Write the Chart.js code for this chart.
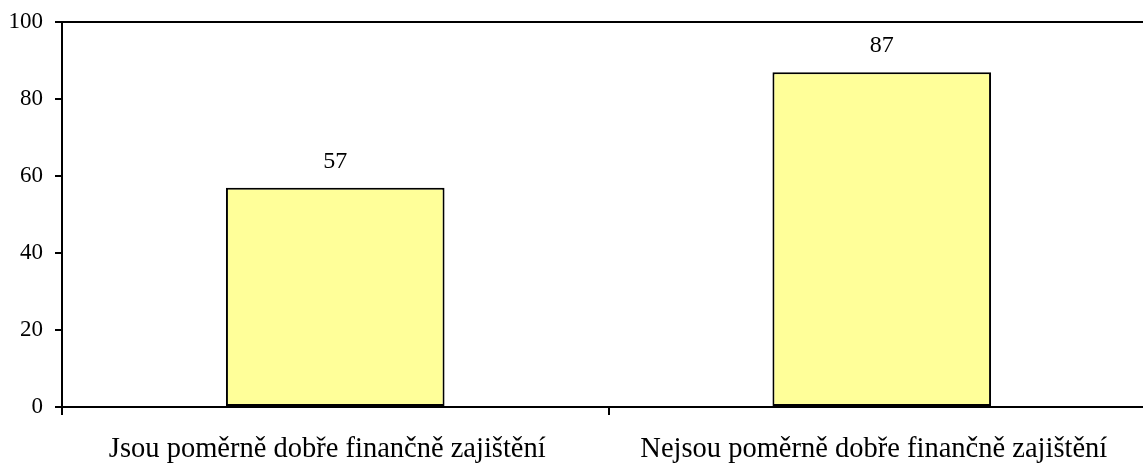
<!DOCTYPE html>
<html>
<head>
<meta charset="utf-8">
<script src="https://cdn.jsdelivr.net/npm/chart.js@4"></script>
<style>
  html, body { margin: 0; padding: 0; background: #fff; overflow: hidden; }
  #wrap { width: 1160px; height: 465px; position: relative; }
</style>
</head>
<body>
<div id="wrap"><canvas id="chart"></canvas></div>
<script>
var categories = ["Jsou poměrně dobře finančně zajištění", "Nejsou poměrně dobře finančně zajištění"];
var values = [57, 87];
var yTicks = [0, 20, 40, 60, 80, 100];

var serif = '"Liberation Serif", "Times New Roman", serif';

// values above the bars
var valueLabels = {
  id: 'valueLabels',
  afterDatasetsDraw: function(chart) {
    var ctx = chart.ctx;
    var meta = chart.getDatasetMeta(0);
    ctx.save();
    ctx.font = '24px ' + serif;
    ctx.fillStyle = '#000';
    ctx.textAlign = 'center';
    ctx.textBaseline = 'alphabetic';
    meta.data.forEach(function(bar, i) {
      ctx.fillText(values[i], bar.x, bar.y - 20);
    });
    ctx.restore();
  }
};

var ctx = document.getElementById('chart').getContext('2d');
var chart = new Chart(ctx, {
  type: 'bar',
  data: {
    labels: categories,
    datasets: [{
      data: values,
      backgroundColor: '#FFFF99',
      borderColor: '#000',
      borderWidth: 2,
      borderSkipped: false,
      barPercentage: 0.4,
      categoryPercentage: 1
    }]
  },
  options: {
    responsive: true,
    maintainAspectRatio: false,
    animation: false,
    layout: { padding: { top: 0, right: 5, left: 0, bottom: 0 } },
    plugins: { legend: { display: false }, tooltip: { enabled: false } },
    scales: {
      x: {
        offset: true,
        grid: { offset: true, drawOnChartArea: false, tickColor: '#000', tickLength: 8, lineWidth: 2 },
        border: { color: '#000', width: 2 },
        ticks: {
          color: '#000',
          padding: 17,
          labelOffset: -8,
          maxRotation: 0,
          font: { family: serif, size: 28.5 }
        },
        afterFit: function(s) { s.height = 58; }
      },
      y: {
        min: 0,
        max: 100,
        afterBuildTicks: function(s) { s.ticks = yTicks.map(function(v) { return { value: v }; }); },
        grid: {
          drawOnChartArea: true,
          color: function(c) { return c.tick && c.tick.value === 100 ? '#000' : 'rgba(0,0,0,0)'; },
          tickColor: '#000',
          tickLength: 7,
          lineWidth: 2
        },
        border: { color: '#000', width: 2 },
        ticks: {
          color: '#000',
          padding: 12,
          font: { family: serif, size: 23, lineHeight: 0.9 }
        },
        afterFit: function(s) { s.width = 62; }
      }
    }
  },
  plugins: [valueLabels]
});
</script>
</body>
</html>
